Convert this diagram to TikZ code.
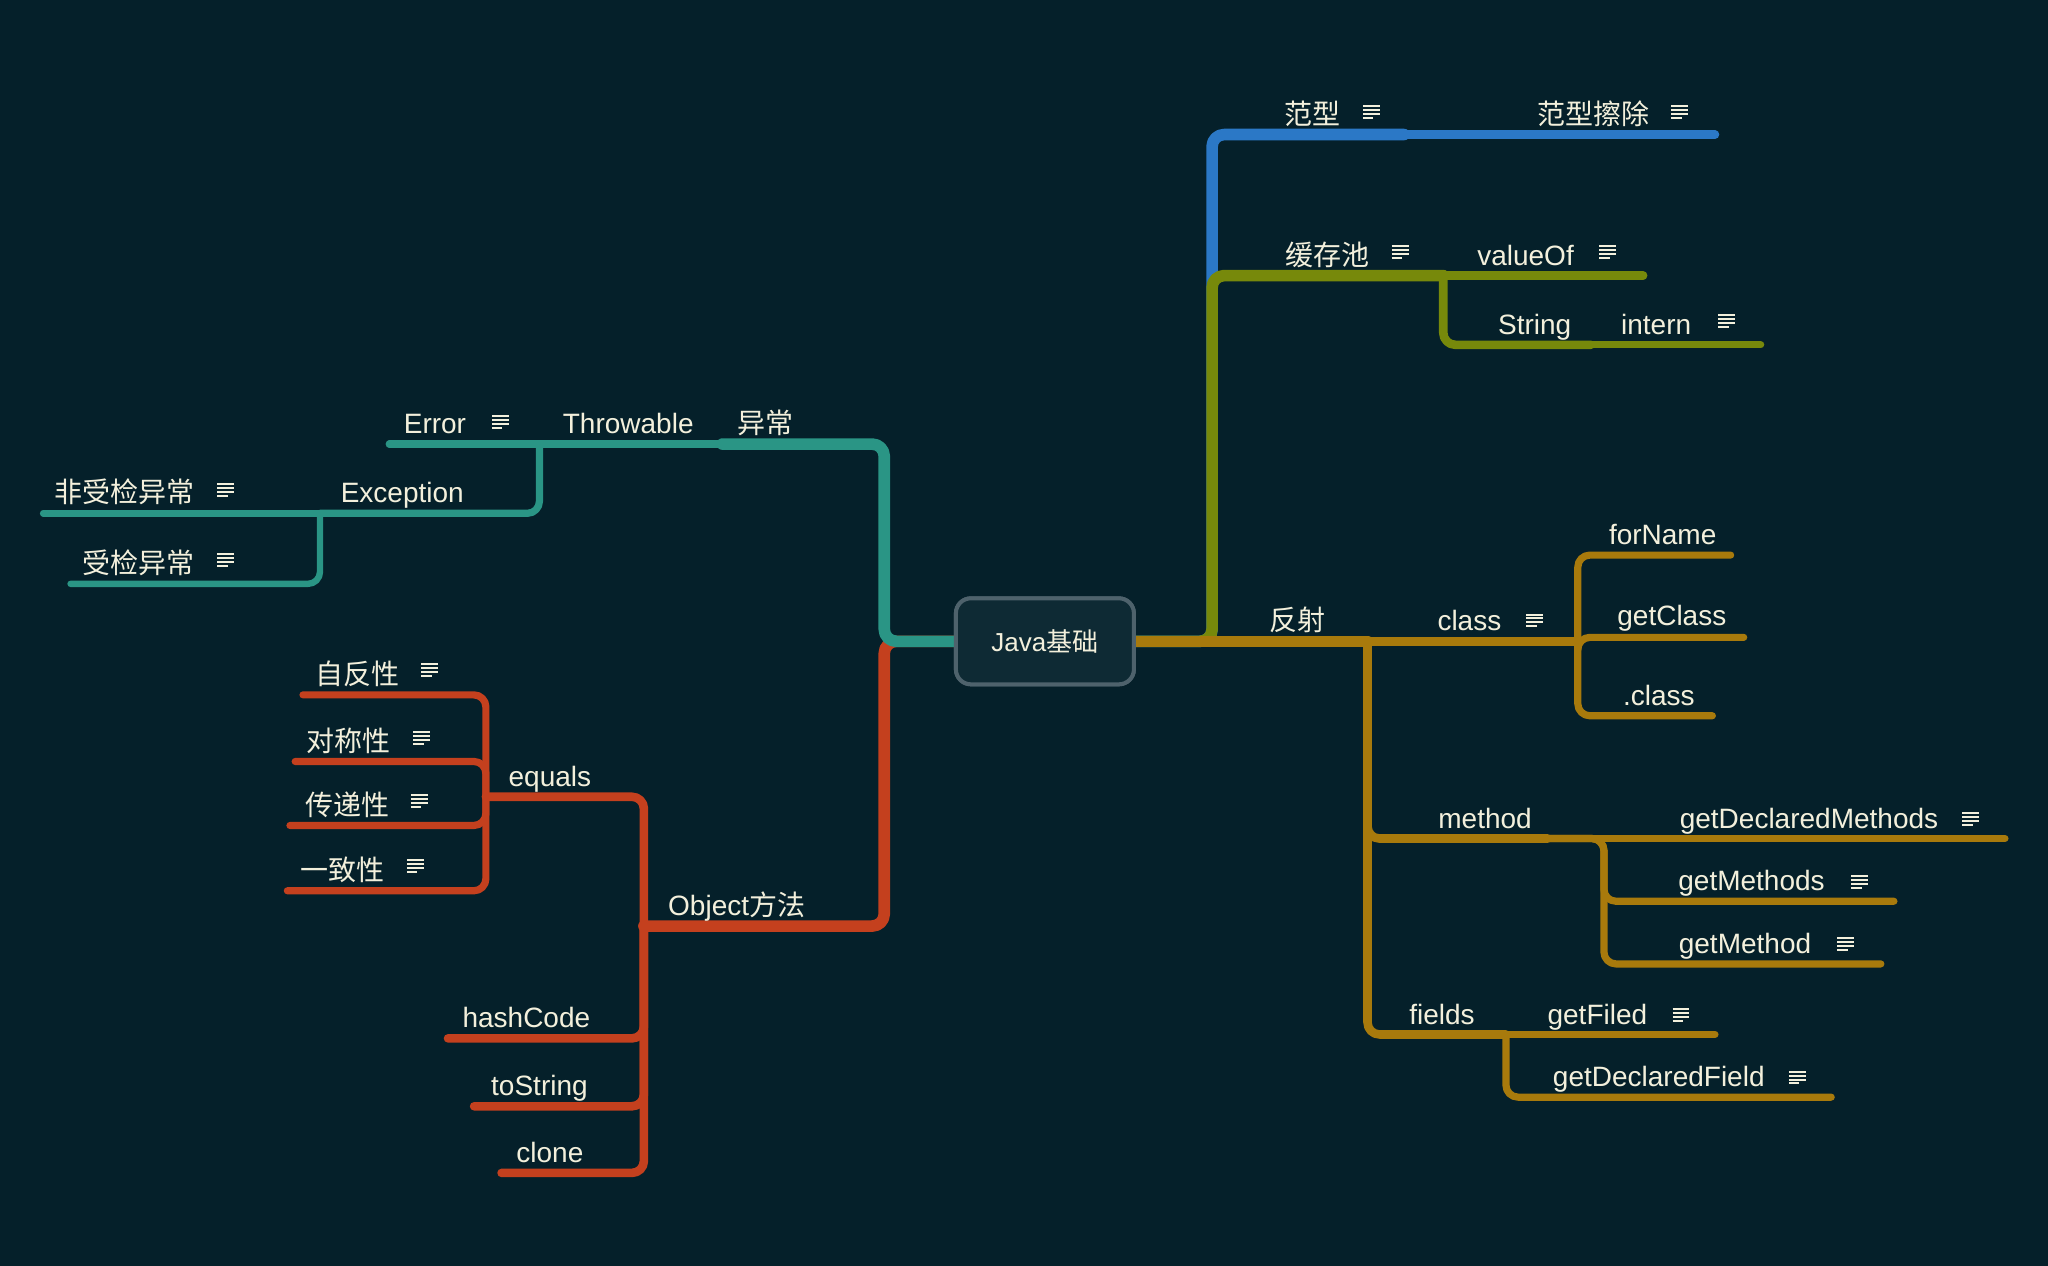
\documentclass[tikz,border=0pt]{standalone}
\usepackage{fontspec}
\setmainfont{Liberation Sans}
\newfontfamily\cjk{Noto Sans CJK SC}
\definecolor{bg}{HTML}{05202A}
\definecolor{rootfill}{HTML}{0E2A34}
\definecolor{rootline}{HTML}{4E626C}
\definecolor{txt}{HTML}{F3F0DC}
\definecolor{cteal}{HTML}{2A9585}
\definecolor{cblue}{HTML}{2B78C6}
\definecolor{colive}{HTML}{77890B}
\definecolor{cgold}{HTML}{A87A0C}
\definecolor{cred}{HTML}{C4401E}
\tikzset{
  br/.style={line cap=round, line join=round, rounded corners=6pt},
  lone/.style={br, line width=5.8pt},
  ltwo/.style={br, line width=4.3pt},
  lthree/.style={br, line width=3.6pt},
  lfour/.style={br, line width=3.2pt},
  lbl/.style={anchor=base, inner sep=0pt, text=txt, font=\fontsize{14}{16}\selectfont},
  rootbox/.style={draw=rootline, line width=2pt, fill=rootfill, rounded corners=7.5pt,
    minimum width=89pt, minimum height=43pt, text=txt, font=\fontsize{13}{15}\selectfont},
  noteicon/.pic={
    \foreach \yy/\ll in {-4.5/6.5,-1.5/6.5,1.5/6.5,4.5/1.5}
      \draw[txt, line width=1pt] (-6.5,\yy) -- (\ll,\yy);
  }
}
\begin{document}
\begin{tikzpicture}[x=0.65306pt,y=-0.65306pt]
\fill[bg] (0,0) rectangle (1568,969);
\useasboundingbox (0,0) rectangle (1568,969);

% root
\node[rootbox] (root) at (800,491) {Java\cjk{基础}};

% junction and end coordinates
\coordinate (j-right) at (928,491);
\coordinate (j-left) at (677,491);
\coordinate (e-fanxing) at (1075,103);
\coordinate (e-fxcc) at (1313,103);
\coordinate (e-huancun) at (1105,211);
\coordinate (e-valueof) at (1258,211);
\coordinate (e-string) at (1218,264);
\coordinate (e-intern) at (1348,264);
\coordinate (e-fanshe) at (1047,491);
\coordinate (e-cls) at (1208,491);
\coordinate (e-forname) at (1325,425);
\coordinate (e-getclass) at (1335,488);
\coordinate (e-dotclass) at (1311,548);
\coordinate (e-method) at (1185,642);
\coordinate (j-method) at (1228,642);
\coordinate (e-gdm) at (1535,642);
\coordinate (e-gms) at (1450,690);
\coordinate (e-gm) at (1440,738);
\coordinate (e-fields) at (1153,792);
\coordinate (e-getfiled) at (1313,792);
\coordinate (e-gdf) at (1402,840);
\coordinate (e-yichang) at (553,340);
\coordinate (e-throwable) at (413,340);
\coordinate (e-error) at (298,340);
\coordinate (e-exception) at (245,393);
\coordinate (e-fsj) at (33,393);
\coordinate (e-sj) at (54,447);
\coordinate (e-object) at (493,709);
\coordinate (e-equals) at (372,610);
\coordinate (e-zfx) at (232,532);
\coordinate (e-dcx) at (226,583);
\coordinate (e-cdx) at (222,632);
\coordinate (e-yzx) at (220,682);
\coordinate (e-hash) at (343,795);
\coordinate (e-tostr) at (363,847);
\coordinate (e-clone) at (384,898);

% blue branch
\draw[lone, cblue] (root.east) -- (j-right) |- (e-fanxing);
\draw[ltwo, cblue] (e-fanxing) -- (e-fxcc);
% olive branch
\draw[lone, colive] (root.east) -- (j-right) |- (e-huancun);
\draw[ltwo, colive] (e-huancun) -- (e-valueof);
\draw[ltwo, colive] (e-huancun) |- (e-string);
\draw[lthree, colive] (e-string) -- (e-intern);
% gold branch
\draw[lone, cgold] (root.east) -- (e-fanshe);
\draw[ltwo, cgold] (e-fanshe) -- (e-cls);
\draw[lthree, cgold] (e-cls) |- (e-forname);
\draw[lthree, cgold] (e-cls) |- (e-getclass);
\draw[lthree, cgold] (e-cls) |- (e-dotclass);
\draw[ltwo, cgold] (e-fanshe) |- (e-method);
\draw[lthree, cgold] (e-method) -- (e-gdm);
\draw[lthree, cgold] (e-method) -- (j-method) |- (e-gms);
\draw[lthree, cgold] (e-method) -- (j-method) |- (e-gm);
\draw[ltwo, cgold] (e-fanshe) |- (e-fields);
\draw[lthree, cgold] (e-fields) -- (e-getfiled);
\draw[lthree, cgold] (e-fields) |- (e-gdf);
% red branch
\draw[lone, cred] (root.west) -- (j-left) |- (e-object);
\draw[ltwo, cred] (e-object) |- (e-equals);
\draw[lthree, cred] (e-equals) |- (e-zfx);
\draw[lthree, cred] (e-equals) |- (e-dcx);
\draw[lthree, cred] (e-equals) |- (e-cdx);
\draw[lthree, cred] (e-equals) |- (e-yzx);
\draw[ltwo, cred] (e-object) |- (e-hash);
\draw[ltwo, cred] (e-object) |- (e-tostr);
\draw[ltwo, cred] (e-object) |- (e-clone);
% teal branch
\draw[lone, cteal] (root.west) -- (j-left) |- (e-yichang);
\draw[ltwo, cteal] (e-yichang) -- (e-throwable);
\draw[lthree, cteal] (e-throwable) -- (e-error);
\draw[lthree, cteal] (e-throwable) |- (e-exception);
\draw[lfour, cteal] (e-exception) -- (e-fsj);
\draw[lfour, cteal] (e-exception) |- (e-sj);

% root redrawn on top
\node[rootbox] at (root) {Java\cjk{基础}};

% labels
\node[lbl] (t-fanxing) at (1005,95) {\cjk{范型}};
\pic at (1050,86) {noteicon};
\node[lbl] (t-fxcc) at (1220,95) {\cjk{范型擦除}};
\pic at (1286,86) {noteicon};
\node[lbl] (t-huancun) at (1016,203) {\cjk{缓存池}};
\pic at (1072,193) {noteicon};
\node[lbl] (t-valueof) at (1168,203) {valueOf};
\pic at (1231,193) {noteicon};
\node[lbl] (t-string) at (1175,256) {String};
\node[lbl] (t-intern) at (1268,256) {intern};
\pic at (1322,246) {noteicon};
\node[lbl] (t-fanshe) at (993,483) {\cjk{反射}};
\node[lbl] (t-cls) at (1125,483) {class};
\pic at (1175,475) {noteicon};
\node[lbl] (t-forname) at (1273,417) {forName};
\node[lbl] (t-getclass) at (1280,479) {getClass};
\node[lbl] (t-dotclass) at (1270,540) {.class};
\node[lbl] (t-method) at (1137,634) {method};
\node[lbl] (t-gdm) at (1385,634) {getDeclaredMethods};
\pic at (1509,627) {noteicon};
\node[lbl] (t-gms) at (1341,682) {getMethods};
\pic at (1424,675) {noteicon};
\node[lbl] (t-gm) at (1336,730) {getMethod};
\pic at (1413,723) {noteicon};
\node[lbl] (t-fields) at (1104,784) {fields};
\node[lbl] (t-getfiled) at (1223,784) {getFiled};
\pic at (1287,777) {noteicon};
\node[lbl] (t-gdf) at (1270,832) {getDeclaredField};
\pic at (1376,825) {noteicon};

\node[lbl] (t-yichang) at (586,332) {\cjk{异常}};
\node[lbl] (t-throwable) at (481,332) {Throwable};
\node[lbl] (t-error) at (333,332) {Error};
\pic at (383,323) {noteicon};
\node[lbl] (t-exception) at (308,385) {Exception};
\node[lbl] (t-fsj) at (95,385) {\cjk{非受检异常}};
\pic at (173,375) {noteicon};
\node[lbl] (t-sj) at (106,439) {\cjk{受检异常}};
\pic at (173,429) {noteicon};

\node[lbl] (t-object) at (564,701) {Object\cjk{方法}};
\node[lbl] (t-equals) at (421,602) {equals};
\node[lbl] (t-zfx) at (274,524) {\cjk{自反性}};
\pic at (329,513) {noteicon};
\node[lbl] (t-dcx) at (267,575) {\cjk{对称性}};
\pic at (323,565) {noteicon};
\node[lbl] (t-cdx) at (266,624) {\cjk{传递性}};
\pic at (321,613) {noteicon};
\node[lbl] (t-yzx) at (262,674) {\cjk{一致性}};
\pic at (318,663) {noteicon};
\node[lbl] (t-hash) at (403,787) {hashCode};
\node[lbl] (t-tostr) at (413,839) {toString};
\node[lbl] (t-clone) at (421,890) {clone};
\end{tikzpicture}
\end{document}
